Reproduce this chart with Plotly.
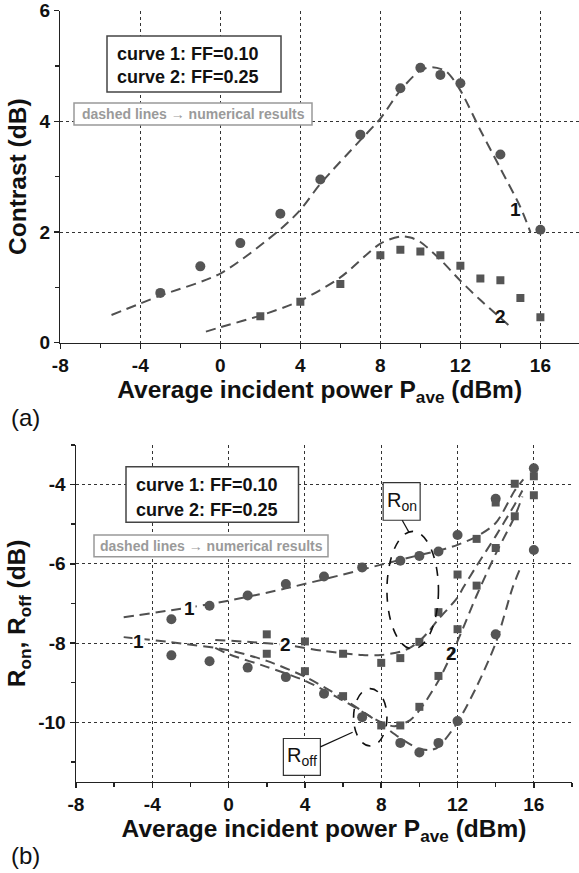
import plotly.graph_objects as go

# ---------------- data: panel (a) contrast ----------------
x_c1 = [-3, -1, 1, 3, 5, 7, 9, 10, 11, 12, 14, 16]
contrast_c1 = [0.90, 1.38, 1.80, 2.33, 2.95, 3.76, 4.60, 4.97, 4.84, 4.69, 3.40, 2.04]
x_c2 = [2, 4, 6, 8, 9, 10, 11, 12, 13, 14, 15, 16]
contrast_c2 = [0.48, 0.74, 1.06, 1.58, 1.68, 1.65, 1.58, 1.39, 1.16, 1.13, 0.81, 0.46]

num_x_c1 = [-5.44, -3, 0, 3, 4, 5, 7, 8, 9, 10, 10.6, 11.3, 12, 13, 14, 15, 15.5]
num_c1 = [0.50, 0.85, 1.25, 2.05, 2.40, 2.87, 3.66, 4.05, 4.56, 4.92, 4.98, 4.90, 4.56, 3.84, 3.15, 2.45, 2.00]
num_x_c2 = [-0.72, 0, 2, 4, 6, 8, 9, 9.5, 10, 11, 12, 13, 14, 14.4]
num_c2 = [0.20, 0.28, 0.49, 0.76, 1.18, 1.79, 1.92, 1.90, 1.82, 1.50, 1.12, 0.77, 0.45, 0.32]

# ---------------- data: panel (b) R_on / R_off ----------------
x_b1 = [-3, -1, 1, 3, 5, 7, 9, 10, 11, 12, 14, 16]
ron_1 = [-7.40, -7.06, -6.80, -6.51, -6.32, -6.09, -5.92, -5.80, -5.69, -5.27, -4.36, -3.59]
roff_1 = [-8.31, -8.46, -8.62, -8.86, -9.28, -9.87, -10.52, -10.76, -10.52, -9.97, -7.78, -5.65]
x_b2 = [2, 4, 6, 8, 9, 10, 11, 12, 13, 14, 15, 16]
ron_2 = [-7.78, -7.96, -8.27, -8.50, -8.38, -7.97, -7.22, -6.27, -5.37, -4.45, -3.98, -3.79]
roff_2 = [-8.27, -8.71, -9.34, -10.08, -10.08, -9.61, -8.83, -7.65, -6.55, -5.60, -4.80, -4.27]

nx_on1 = [-5.5, -3, 0, 3, 6, 8, 10, 11, 12, 13, 14, 15, 15.45]
n_on1 = [-7.35, -7.17, -6.93, -6.62, -6.27, -6.02, -5.78, -5.67, -5.52, -5.31, -4.97, -4.15, -3.87]
nx_off1 = [-5.5, -3, 0, 2, 4, 6, 8, 9, 10, 10.6, 11, 12, 13, 14, 14.9, 15.3]
n_off1 = [-7.85, -7.98, -8.18, -8.45, -8.85, -9.40, -10.05, -10.40, -10.67, -10.70, -10.62, -10.00, -9.10, -8.00, -6.58, -6.10]
nx_on2 = [-0.7, 1, 3, 5, 7, 8, 9, 9.5, 10, 10.5, 11, 12, 12.3, 13, 14, 15, 15.4]
n_on2 = [-7.92, -7.97, -8.05, -8.20, -8.30, -8.30, -8.22, -8.12, -7.95, -7.70, -7.40, -6.85, -6.60, -6.05, -5.30, -4.50, -4.15]
nx_off2 = [-0.7, 0, 2, 4, 6, 8, 8.7, 9.5, 10, 11, 12, 13, 14, 15, 15.4]
n_off2 = [-8.12, -8.28, -8.60, -8.95, -9.45, -10.00, -10.10, -9.95, -9.70, -8.95, -7.95, -6.80, -5.75, -4.80, -4.30]

# ---------------- tick labels ----------------
x_tickvals = [-8, -4, 0, 4, 8, 12, 16]
x_ticktext = ["-8", "-4", "0", "4", "8", "12", "16"]
ya_tickvals = [0, 2, 4, 6]
ya_ticktext = ["0", "2", "4", "6"]
yb_tickvals = [-10, -8, -6, -4]
yb_ticktext = ["-10", "-8", "-6", "-4"]

W, H = 579, 873
def px(x):
    return x / W
def py(y):
    return 1 - y / H

def bold(labels):
    return ["<b>%s</b>" % t for t in labels]

FONT = "Liberation Sans, Arial, Helvetica, sans-serif"
MK = "#555555"
LN = "#505050"
AX = "#222222"
DASH = "10px,6px"

fig = go.Figure()

def dline(x, y, xa, ya):
    fig.add_trace(go.Scatter(x=x, y=y, mode="lines", xaxis=xa, yaxis=ya,
                             line=dict(color=LN, width=2, dash=DASH, shape="spline", smoothing=0.8),
                             hoverinfo="skip"))

def pts(x, y, sym, size, xa, ya):
    fig.add_trace(go.Scatter(x=x, y=y, mode="markers", xaxis=xa, yaxis=ya,
                             marker=dict(symbol=sym, size=size, color=MK, line=dict(width=0))))

# panel (a)
dline(num_x_c1, num_c1, "x", "y")
dline(num_x_c2, num_c2, "x", "y")
pts(x_c1, contrast_c1, "circle", 10, "x", "y")
pts(x_c2, contrast_c2, "square", 8, "x", "y")

# panel (b)
dline(nx_on1, n_on1, "x2", "y2")
dline(nx_off1, n_off1, "x2", "y2")
dline(nx_on2, n_on2, "x2", "y2")
dline(nx_off2, n_off2, "x2", "y2")
pts(x_b1, ron_1, "circle", 10, "x2", "y2")
pts(x_b1, roff_1, "circle", 10, "x2", "y2")
pts(x_b2, ron_2, "square", 8, "x2", "y2")
pts(x_b2, roff_2, "square", 8, "x2", "y2")

tickfont = dict(family=FONT, size=19, color="#111111", weight="bold")
titlefont = dict(family=FONT, size=24.5, color="#111111", weight="bold")
common = dict(showline=True, linecolor=AX, linewidth=1.5, ticks="outside", ticklen=5,
              tickwidth=1.5, tickcolor=AX, tickfont=tickfont, showgrid=True,
              gridcolor="#333333", griddash="dot", gridwidth=1, zeroline=False,
              automargin=False, fixedrange=True, tickmode="array",
              ticklabeloverflow="allow")

def minor(t0, dt):
    return dict(tickmode="linear", tick0=t0, dtick=dt, ticks="outside", ticklen=4,
                tickwidth=1.5, tickcolor=AX, showgrid=False)

xtitle = "Average incident power P<sub>ave</sub> (dBm)"

fig.update_layout(
    width=W, height=H, margin=dict(l=0, r=0, t=0, b=0),
    paper_bgcolor="white", plot_bgcolor="white", showlegend=False,
    xaxis=dict(common, domain=[px(60.3), 1], range=[-8, 17.93],
               tickvals=x_tickvals, ticktext=bold(x_ticktext), minor=minor(-8, 2),
               anchor="y", title=dict(text=xtitle, font=titlefont, standoff=0)),
    yaxis=dict(common, domain=[py(342.7), py(10.7)], range=[0, 6],
               tickvals=ya_tickvals, ticktext=bold(ya_ticktext), minor=minor(0, 1),
               anchor="x", title=dict(text="Contrast (dB)", font=titlefont, standoff=6)),
    xaxis2=dict(common, domain=[px(76), px(572)], range=[-8, 18],
                tickvals=x_tickvals, ticktext=bold(x_ticktext), minor=minor(-8, 2),
                anchor="y2", title=dict(text=xtitle, font=titlefont, standoff=0)),
    yaxis2=dict(common, domain=[py(781.7), py(445)], range=[-11.5, -3],
                tickvals=yb_tickvals, ticktext=bold(yb_ticktext), minor=minor(0, 1),
                anchor="x2", title=dict(text="R<sub>on</sub>, R<sub>off</sub> (dB)", font=titlefont, standoff=5)),
)

shapes = []
# legend boxes (a)
shapes.append(dict(type="rect", xref="paper", yref="paper", x0=px(107), x1=px(281), y0=py(92), y1=py(36),
                   line=dict(color="#444444", width=1.5), fillcolor="white", layer="above"))
shapes.append(dict(type="rect", xref="paper", yref="paper", x0=px(74), x1=px(312), y0=py(125), y1=py(103),
                   line=dict(color="#999999", width=1.5), fillcolor="white", layer="above"))
# legend boxes (b)
shapes.append(dict(type="rect", xref="paper", yref="paper", x0=px(126), x1=px(298.5), y0=py(522.3), y1=py(466.7),
                   line=dict(color="#444444", width=1.5), fillcolor="white", layer="above"))
shapes.append(dict(type="rect", xref="paper", yref="paper", x0=px(94), x1=px(328), y0=py(556.7), y1=py(535),
                   line=dict(color="#999999", width=1.5), fillcolor="white", layer="above"))
# R_on / R_off boxes, ellipses and leaders
shapes.append(dict(type="rect", xref="x2", yref="y2", x0=8.1, x1=10.04, y0=-4.9, y1=-3.95,
                   line=dict(color="#333333", width=1.2), fillcolor="white", layer="above"))
shapes.append(dict(type="rect", xref="x2", yref="y2", x0=2.87, x1=4.81, y0=-11.34, y1=-10.41,
                   line=dict(color="#333333", width=1.2), fillcolor="white", layer="above"))
shapes.append(dict(type="circle", xref="x2", yref="y2", x0=8.3, x1=11.0, y0=-8.15, y1=-5.18,
                   line=dict(color="#111111", width=1.6, dash="dash")))
shapes.append(dict(type="circle", xref="x2", yref="y2", x0=6.55, x1=8.3, y0=-10.6, y1=-9.15,
                   line=dict(color="#111111", width=1.6, dash="dash")))
shapes.append(dict(type="line", xref="x2", yref="y2", x0=9.1, x1=9.45, y0=-4.9, y1=-5.2,
                   line=dict(color="#111111", width=1.2)))
shapes.append(dict(type="line", xref="x2", yref="y2", x0=4.81, x1=6.5, y0=-10.62, y1=-10.25,
                   line=dict(color="#111111", width=1.2)))
fig.update_layout(shapes=shapes)

bold18 = dict(family=FONT, size=18, color="#111111", weight="bold")
bold19 = dict(family=FONT, size=19, color="#111111", weight="bold")
ann = []
def text(x, y, s, font, xref="paper", yref="paper", xanchor="center", bg=None):
    d = dict(x=x, y=y, xref=xref, yref=yref, text=s, showarrow=False, font=font,
             xanchor=xanchor, yanchor="middle")
    if bg:
        d["bgcolor"] = bg
        d["borderpad"] = 0
    ann.append(d)

text(px(115), py(54), "curve 1: FF=0.10", bold18, xanchor="left")
text(px(115), py(77), "curve 2: FF=0.25", bold18, xanchor="left")
text(px(193), py(114), "dashed lines \u2192 numerical results",
     dict(family=FONT, size=14, color="#9a9a9a", weight="bold"))
text(px(134), py(485), "curve 1: FF=0.10", bold18, xanchor="left")
text(px(134), py(510), "curve 2: FF=0.25", bold18, xanchor="left")
text(px(211), py(546), "dashed lines \u2192 numerical results",
     dict(family=FONT, size=14, color="#9a9a9a", weight="bold"))

text(px(25.5), py(417), "(a)", dict(family=FONT, size=24, color="#111111"))
text(px(25), py(855), "(b)", dict(family=FONT, size=24, color="#111111"))

text(14.76, 2.40, "1", bold19, "x", "y")
text(14.03, 0.47, "2", bold19, "x", "y")
text(-2.07, -7.12, "1", bold19, "x2", "y2", bg="white")
text(-4.7, -7.97, "1", bold19, "x2", "y2", bg="white")
text(2.97, -8.03, "2", bold19, "x2", "y2", bg="white")
text(11.69, -8.27, "2", bold19, "x2", "y2")

text(9.07, -4.42, "R<sub>on</sub>", dict(family=FONT, size=20, color="#111111"), "x2", "y2")
text(3.84, -10.87, "R<sub>off</sub>", dict(family=FONT, size=20, color="#111111"), "x2", "y2")
fig.update_layout(annotations=ann)

fig.write_html("out.html", config={"displayModeBar": False, "staticPlot": True},
               post_script="document.body.style.margin='0';document.body.style.overflow='hidden';")
